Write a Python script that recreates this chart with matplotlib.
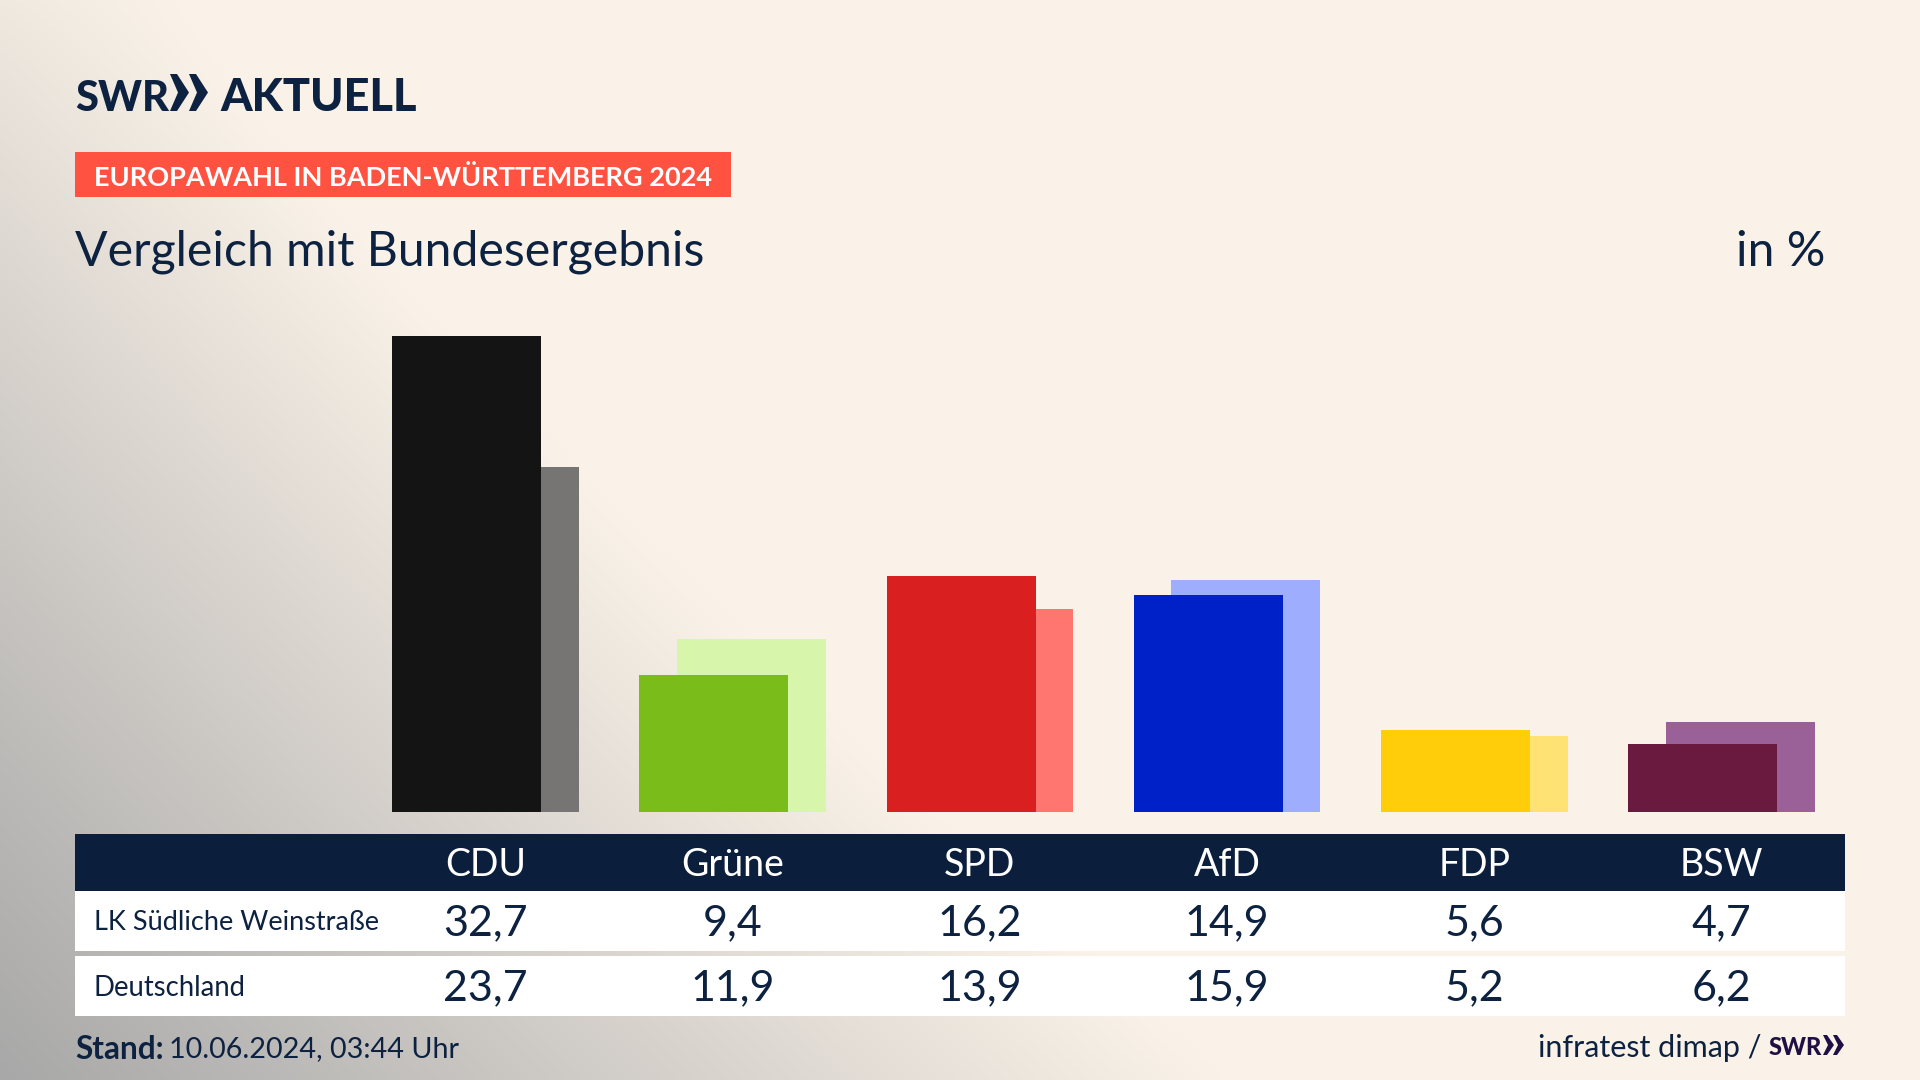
import numpy as np
import matplotlib
matplotlib.use("Agg")
import matplotlib.pyplot as plt
from matplotlib.patches import Rectangle, Polygon
from matplotlib.transforms import blended_transform_factory

parties = ["CDU", "Grüne", "SPD", "AfD", "FDP", "BSW"]
regional = [32.7, 9.4, 16.2, 14.9, 5.6, 4.7]
national = [23.7, 11.9, 13.9, 15.9, 5.2, 6.2]
region_name = "LK Südliche Weinstraße"
nation_name = "Deutschland"
front_colors = ["#141414", "#7ABD1B", "#D91F1F", "#0020C8", "#FFCD0A", "#6B1A3F"]
back_colors = ["#767574", "#D8F6AB", "#FF7570", "#9FADFF", "#FFE273", "#9A6198"]

W, H = 1920, 1080
NAVY = "#0B1F3D"
CREAM = np.array([250, 242, 232]) / 255
GRAY = np.array([168, 168, 168]) / 255
plt.rcParams["font.family"] = ["Lato", "DejaVu Sans"]

fig = plt.figure(figsize=(W / 100, H / 100), dpi=100)

# canvas in pixels
bg = fig.add_axes([0, 0, 1, 1])
bg.set_xlim(0, W)
bg.set_ylim(H, 0)
bg.axis("off")
yy, xx = np.mgrid[0:H:270j, 0:W:480j]
fy = yy / H
t0 = 0.12 + 0.88 * fy ** 0.9
rx = 170 + 1050 * fy ** 1.15
t = t0 * np.clip(1 - xx / rx, 0, 1)
img = CREAM[None, None, :] * (1 - t[..., None]) + GRAY[None, None, :] * t[..., None]
bg.imshow(img, extent=(0, W, H, 0), aspect="auto", interpolation="bilinear", zorder=0)
bg.set_xlim(0, W)
bg.set_ylim(H, 0)

# chart axes
GROUP0, STEP = 485.3, 247.25
BASE, UNIT, TOP = 812, 14.57, 260
XL, XR = 75, 1845
ax = fig.add_axes([XL / W, 1 - BASE / H, (XR - XL) / W, (BASE - TOP) / H])
ax.set_xlim((XL - GROUP0) / STEP, (XR - GROUP0) / STEP)
ax.set_ylim(0, (BASE - TOP) / UNIT)
ax.axis("off")
ax.patch.set_alpha(0)
x = np.arange(len(parties))
bw, off = 149 / STEP, 18.75 / STEP
ax.bar(x + off, national, width=bw, color=back_colors, zorder=2)
ax.bar(x - off, regional, width=bw, color=front_colors, zorder=3)

# header
tc = "#0D2240"
bg.text(75, 111, "SWR", fontsize=30, fontweight="black", color=tc, ha="left", va="baseline", zorder=5)
for x0 in (170, 189):
    bg.add_patch(Polygon([(x0, 74), (x0 + 7, 74), (x0 + 19, 92.5), (x0 + 7, 111), (x0, 111), (x0 + 8, 92.5)],
                         closed=True, fc=tc, ec="none", zorder=5))
bg.text(220, 111, "AKTUELL", fontsize=32.5, fontweight="black", color=tc, ha="left", va="baseline", zorder=5)
bg.add_patch(Rectangle((75, 152), 656, 45, fc="#FF5240", ec="none", zorder=2))
bg.text(94, 175, "EUROPAWAHL IN BADEN-WÜRTTEMBERG 2024", fontsize=19.55, fontweight="bold", color="white",
        ha="left", va="center_baseline", zorder=5)
bg.text(75, 248, "Vergleich mit Bundesergebnis", fontsize=34.7, color=tc, ha="left", va="center_baseline", zorder=5)
bg.text(1825, 248, "in %", fontsize=34.7, color=tc, ha="right", va="center_baseline", zorder=5)

# table
bg.add_patch(Rectangle((75, 834), 1770, 57, fc=NAVY, ec="none", zorder=2))
bg.add_patch(Rectangle((75, 891), 1770, 60, fc="white", ec="none", zorder=2))
bg.add_patch(Rectangle((75, 956), 1770, 60, fc="white", ec="none", zorder=2))
bg.text(94, 920, region_name, fontsize=19.5, color=tc, va="center_baseline", zorder=5)
bg.text(94, 986, nation_name, fontsize=19.8, color=tc, va="center_baseline", zorder=5)
tr = blended_transform_factory(ax.transData, bg.transData)
fmt = lambda v: f"{v:.1f}".replace(".", ",")
for i, p in enumerate(parties):
    ax.text(i, 862, p, transform=tr, fontsize=27, color="white", ha="center", va="center_baseline", zorder=5, clip_on=False)
    ax.text(i, 920, fmt(regional[i]), transform=tr, fontsize=31, color=tc, ha="center", va="center_baseline", zorder=5, clip_on=False)
    ax.text(i, 985, fmt(national[i]), transform=tr, fontsize=31, color=tc, ha="center", va="center_baseline", zorder=5, clip_on=False)

# footer
bg.text(75, 1047, "Stand:", fontsize=22.8, fontweight="bold", color=tc, va="center_baseline", zorder=5)
bg.text(169, 1047, "10.06.2024, 03:44 Uhr", fontsize=20.7, color=tc, va="center_baseline", zorder=5)
bg.text(1762, 1046, "infratest dimap /", fontsize=22, color=tc, ha="right", va="center_baseline", zorder=5)
c2 = "#1F0F45"
bg.text(1769, 1055, "SWR", fontsize=17, fontweight="black", color=c2, ha="left", va="baseline", zorder=5)
for x0 in (1823, 1833):
    bg.add_patch(Polygon([(x0, 1035), (x0 + 4, 1035), (x0 + 11, 1045), (x0 + 4, 1055), (x0, 1055), (x0 + 5, 1045)],
                         closed=True, fc=c2, ec="none", zorder=5))

fig.savefig("out.png", dpi=100)
